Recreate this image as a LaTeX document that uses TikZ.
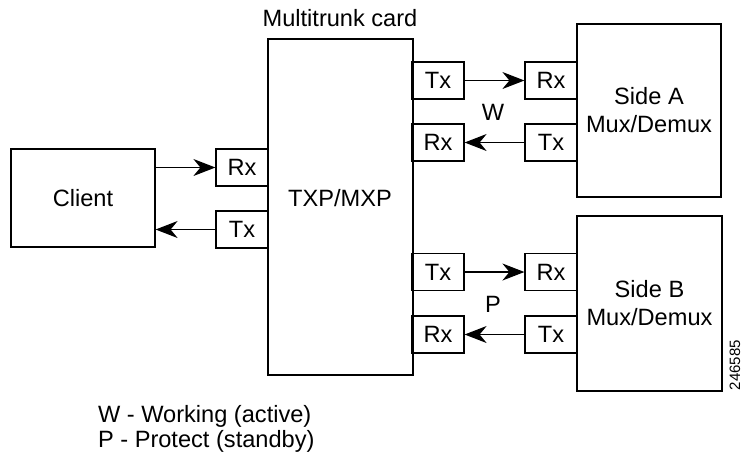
\documentclass[tikz,border=0pt]{standalone}
\usepackage{fontspec}
\setmainfont{Liberation Sans}
\usetikzlibrary{arrows.meta, positioning}

\tikzset{
  box/.style={draw=black, line width=0.6pt, inner sep=0pt},
  port/.style={box, minimum width=26pt, minimum height=18.5pt},
  link/.style={line width=0.6pt, -{Stealth[length=11pt, width=8.5pt, inset=3.5pt]}},
}

\begin{document}
\begin{tikzpicture}[x=0.5pt, y=-0.5pt, font=\fontsize{11.8}{14}\selectfont]
\useasboundingbox (0,0) rectangle (742,462);
% client side
\node[box, minimum width=72pt, minimum height=49pt] (client) at (83,198) {Client};
\node[port] (crx) at (242,167.5) {Rx};
\node[port] (ctx) at (242,229.5) {Tx};
% multitrunk card
\node[box, minimum width=72.5pt, minimum height=168pt] (card) at (340.5,207) {};
\node (cardname) at (340,198) {TXP/MXP};
\node (cardtitle) at (340,18) {Multitrunk card};
% working path, side A
\node[port] (atx) at (438,80.5) {Tx};
\node[port] (arx) at (438,142.5) {Rx};
\node[port] (sarx) at (551,80.5) {Rx};
\node[port] (satx) at (551,142.5) {Tx};
\node[box, minimum width=72pt, minimum height=86.5pt, align=center] (sidea) at (649,110.5) {Side A\\Mux/Demux};
\node (w) at (493,112) {W};
% protect path, side B
\node[port] (btx) at (438,272) {Tx};
\node[port] (brx) at (438,334.5) {Rx};
\node[port] (sbrx) at (551,272) {Rx};
\node[port] (sbtx) at (551,334.5) {Tx};
\node[box, minimum width=72.5pt, minimum height=87.5pt, align=center] (sideb) at (649.5,303.5) {Side B\\Mux/Demux};
\node (p) at (493,304) {P};
% connectors
\draw[link] (client.east |- crx.west) -- (crx.west);
\draw[link] (ctx.west) -- (client.east |- ctx.west);
\draw[link] (atx) -- (sarx);
\draw[link] (satx) -- (arx);
\draw[link] (btx) -- (sbrx);
\draw[link] (sbtx) -- (brx);
% legend
\node[anchor=west] (wkey) at (91,416) {W - Working (active)};
\node[anchor=west] (pkey) at (91,441) {P - Protect (standby)};
\node[rotate=90, font=\fontsize{7.5}{9}\selectfont] (figid) at (735,365) {246585};
\end{tikzpicture}
\end{document}
